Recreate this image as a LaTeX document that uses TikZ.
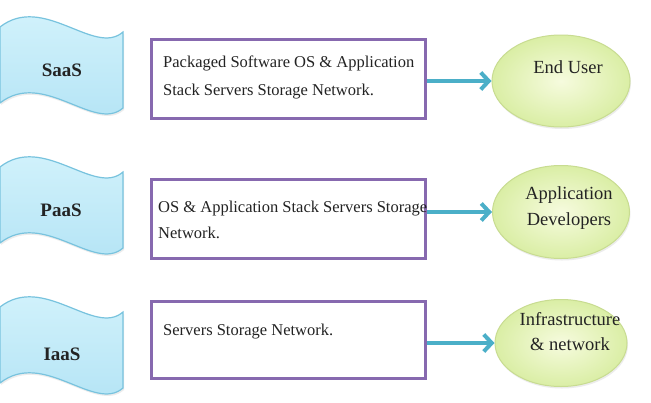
\documentclass[tikz,border=0pt]{standalone}
\usepackage{fontspec}
\setmainfont{Liberation Serif}
\newfontfamily\tnr{Liberation Serif}
\usetikzlibrary{arrows.meta,shapes.geometric,shadows}
\definecolor{wavefillT}{RGB}{214,244,252}
\definecolor{wavefillB}{RGB}{178,227,245}
\definecolor{waveline}{RGB}{120,195,222}
\definecolor{boxline}{RGB}{135,105,175}
\definecolor{arrowcol}{RGB}{75,175,200}
\definecolor{ellin}{RGB}{246,251,222}
\definecolor{ellout}{RGB}{218,238,165}
\definecolor{ellline}{RGB}{200,220,145}
\definecolor{txt}{RGB}{35,35,35}
\begin{document}
\begin{tikzpicture}[x=1pt,y=-1pt,
 wave/.style={draw=waveline, line width=1.2pt, top color=wavefillT, bottom color=wavefillB,
   drop shadow={opacity=0.15, shadow xshift=1pt, shadow yshift=-2pt}},
 wavepic/.pic={\path[wave] (-61.5,-38) .. controls (-18,-72) and (33,-8) .. (61.5,-33)
     -- (61.5,43) .. controls (33,68) and (-18,4) .. (-61.5,38) -- cycle;},
 wavelabel/.style={font=\tnr\fontsize{19}{22}\selectfont\bfseries, text=txt, anchor=base, inner sep=0pt},
 layerbox/.style={draw=boxline, line width=3pt, fill=white, minimum width=274pt, inner sep=0pt,
   drop shadow={opacity=0.18, shadow xshift=1.5pt, shadow yshift=-1.5pt}},
 boxtext/.style={font=\tnr\fontsize{16.5}{20}\selectfont, text=txt, anchor=base west, inner sep=0pt},
 user/.style={ellipse, draw=ellline, line width=1pt, inner color=ellin, outer color=ellout, inner sep=0pt,
   drop shadow={opacity=0.15, shadow xshift=1pt, shadow yshift=-2pt}},
 usertext/.style={font=\tnr\fontsize{18.5}{22}\selectfont, text=txt, anchor=base, inner sep=0pt},
 flow/.style={draw=arrowcol, line width=4pt, -{Straight Barb[length=8pt,width=17pt]}}
]
\fill[white] (0,0) rectangle (651,402);
\useasboundingbox (0,0) rectangle (651,402);

% service layer banners
\pic at (61.5,65) {wavepic};
\pic at (61.5,205) {wavepic};
\pic at (61.5,345) {wavepic};
\node[wavelabel] (saas) at (62,76) {SaaS};
\node[wavelabel] (paas) at (61,216) {PaaS};
\node[wavelabel] (iaas) at (62,360) {IaaS};

% boxes
\node[layerbox, minimum height=79pt] (r1) at (288.5,79) {};
\node[layerbox, minimum height=79pt] (r2) at (288.5,219) {};
\node[layerbox, minimum height=77pt] (r3) at (288.5,340) {};
\node[boxtext] (t1a) at (163,67) {Packaged Software OS \& Application};
\node[boxtext] (t1b) at (163,95) {Stack Servers Storage Network.};
\node[boxtext] (t2a) at (158,212.5) {OS \& Application Stack Servers Storage};
\node[boxtext] (t2b) at (158,238.5) {Network.};
\node[boxtext] (t3a) at (163,335) {Servers Storage Network.};

% users
\node[user, minimum width=138pt, minimum height=92pt] (e1) at (561,81) {};
\node[user, minimum width=137pt, minimum height=93pt] (e2) at (561,212) {};
\node[user, minimum width=132pt, minimum height=87pt] (e3) at (561,343) {};
\node[usertext] (e1a) at (568,73) {End User};
\node[usertext] (e2a) at (569,199) {Application};
\node[usertext] (e2b) at (569,225) {Developers};
\node[usertext] (e3a) at (570,325) {Infrastructure};
\node[usertext] (e3b) at (570,350) {\& network};

% connectors
\draw[flow] (e1.west -| r1.east) -- (e1.west);
\draw[flow] (e2.west -| r2.east) -- (e2.west);
\draw[flow] (e3.west -| r3.east) -- (e3.west);
\end{tikzpicture}
\end{document}
